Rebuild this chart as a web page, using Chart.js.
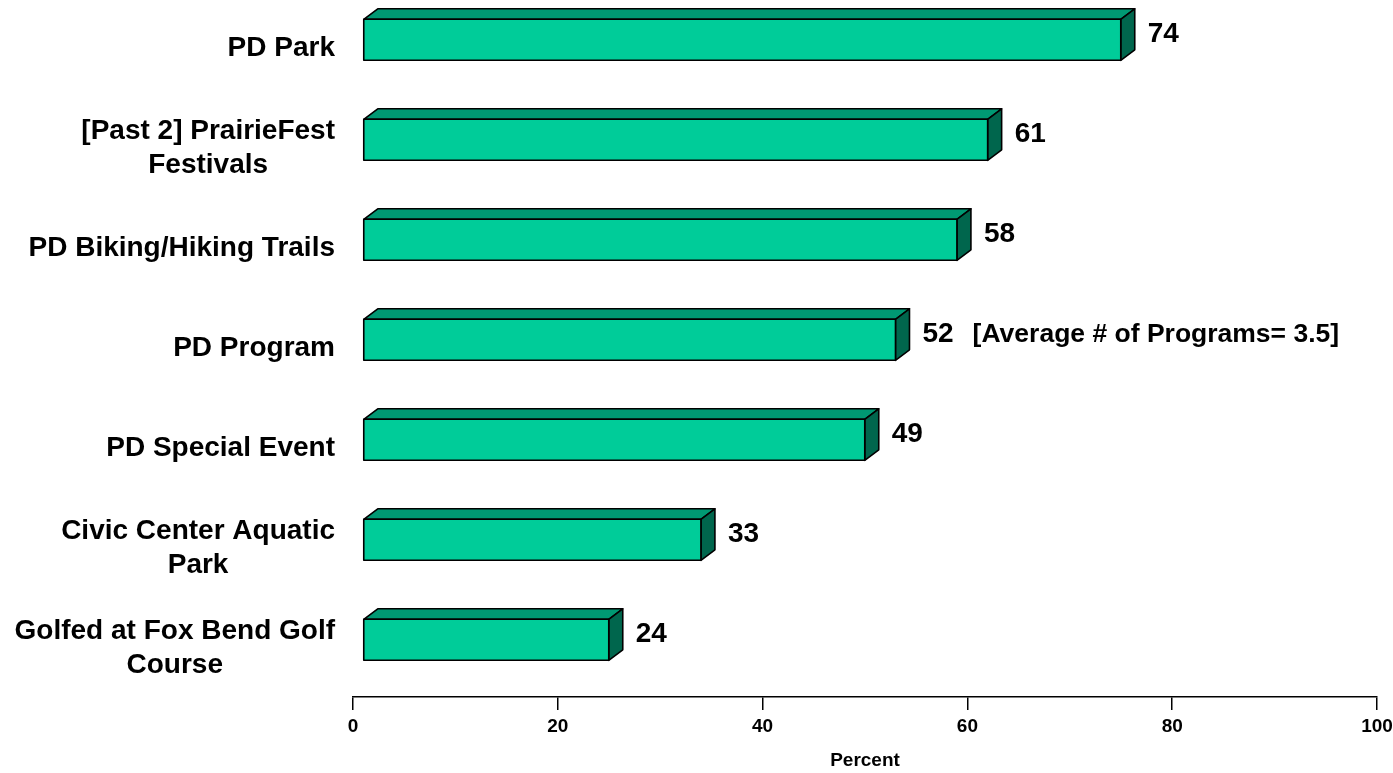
<!DOCTYPE html>
<html>
<head>
<meta charset="utf-8">
<script src="https://cdn.jsdelivr.net/npm/chart.js@4"></script>
<style>
    html, body { margin: 0; padding: 0; background: #fff; overflow: hidden; }
    #wrap { position: absolute; left: 0; top: -3px; width: 1393px; height: 776px; }
</style>
</head>
<body>
<div id="wrap"><canvas id="usageChart"></canvas></div>
<script>
const categories = [
    ['PD Park'],
    ['[Past 2] PrairieFest', 'Festivals'],
    ['PD Biking/Hiking Trails'],
    ['PD Program'],
    ['PD Special Event'],
    ['Civic Center Aquatic', 'Park'],
    ['Golfed at Fox Bend Golf', 'Course']
];
const percents = [74, 61, 58, 52, 49, 33, 24];
const notes = ['', '', '', '[Average # of Programs= 3.5]', '', '', ''];
const xTicks = [0, 20, 40, 60, 80, 100];

const FONT = "'Liberation Sans', Arial, sans-serif";
const colors = {
    front: '#00CC99',
    top: '#009973',
    side: '#00664D',
    edge: '#000000'
};

// excel style 3d look
const depth = { dx: 14, dy: 10.5, shiftX: 10, shiftY: -7.2 };

const bars3d = {
    id: 'bars3d',
    afterDatasetsDraw(chart) {
        const ctx = chart.ctx;
        const meta = chart.getDatasetMeta(0);
        ctx.save();
        ctx.lineWidth = 1.6;
        ctx.strokeStyle = colors.edge;
        ctx.lineJoin = 'round';
        meta.data.forEach((bar, i) => {
            const p = bar.getProps(['x', 'y', 'base', 'height'], true);
            const left = p.base + depth.shiftX;
            const right = p.x + depth.shiftX;
            const top = p.y - p.height / 2 + depth.shiftY;
            const bottom = top + p.height;
            const { dx, dy } = depth;

            // top face
            ctx.beginPath();
            ctx.moveTo(left, top);
            ctx.lineTo(left + dx, top - dy);
            ctx.lineTo(right + dx, top - dy);
            ctx.lineTo(right, top);
            ctx.closePath();
            ctx.fillStyle = colors.top;
            ctx.fill();
            ctx.stroke();

            // side face
            ctx.beginPath();
            ctx.moveTo(right, top);
            ctx.lineTo(right + dx, top - dy);
            ctx.lineTo(right + dx, bottom - dy);
            ctx.lineTo(right, bottom);
            ctx.closePath();
            ctx.fillStyle = colors.side;
            ctx.fill();
            ctx.stroke();

            // front face
            ctx.fillStyle = colors.front;
            ctx.fillRect(left, top, right - left, bottom - top);
            ctx.strokeRect(left, top, right - left, bottom - top);

            // value label
            const labelX = right + dx + 13;
            const labelY = top - dy + (p.height + dy) / 2;
            ctx.fillStyle = '#000';
            ctx.textAlign = 'left';
            ctx.textBaseline = 'middle';
            ctx.font = 'bold 28px ' + FONT;
            const txt = String(percents[i]);
            ctx.fillText(txt, labelX, labelY);
            if (notes[i]) {
                const w = ctx.measureText(txt).width;
                ctx.font = 'bold 26.5px ' + FONT;
                ctx.fillText(notes[i], labelX + w + 19, labelY);
            }
        });
        ctx.restore();
    }
};

const categoryLabels = {
    id: 'categoryLabels',
    afterDraw(chart) {
        const ctx = chart.ctx;
        const yScale = chart.scales.y;
        const rightEdge = chart.chartArea.left - 18;
        const lineH = 34;
        ctx.save();
        ctx.font = 'bold 28px ' + FONT;
        ctx.fillStyle = '#000';
        ctx.textAlign = 'center';
        ctx.textBaseline = 'middle';
        categories.forEach((lines, i) => {
            const cy = yScale.getPixelForValue(i);
            const maxW = Math.max(...lines.map(l => ctx.measureText(l).width));
            const cx = rightEdge - maxW / 2;
            const startY = cy - (lines.length - 1) * lineH / 2;
            lines.forEach((l, k) => {
                ctx.fillText(l, cx, startY + k * lineH + 1);
            });
        });
        ctx.restore();
    }
};

document.addEventListener('DOMContentLoaded', () => {
    new Chart(document.getElementById('usageChart'), {
        type: 'bar',
        data: {
            labels: categories.map(c => c.join(' ')),
            datasets: [{
                data: percents,
                backgroundColor: 'rgba(0,0,0,0)',
                borderWidth: 0,
                barThickness: 41
            }]
        },
        options: {
            indexAxis: 'y',
            responsive: true,
            maintainAspectRatio: false,
            animation: false,
            layout: { padding: { left: 0, right: 16, top: 0, bottom: 0 } },
            scales: {
                x: {
                    min: 0,
                    max: 100,
                    afterBuildTicks: scale => {
                        scale.ticks = xTicks.map(v => ({ value: v }));
                    },
                    afterFit: scale => {
                        scale.height = 76;
                        scale.paddingLeft = 0;
                        scale.paddingRight = 0;
                    },
                    grid: {
                        drawOnChartArea: false,
                        drawTicks: true,
                        tickLength: 13,
                        color: '#000',
                        lineWidth: 1.5
                    },
                    border: { display: true, color: '#000', width: 1.5 },
                    ticks: {
                        color: '#000',
                        padding: 5,
                        maxRotation: 0,
                        font: { family: FONT, size: 19, weight: 'bold' }
                    },
                    title: {
                        display: true,
                        text: 'Percent',
                        color: '#000',
                        padding: { top: 0, bottom: 1 },
                        font: { family: FONT, size: 19, weight: 'bold' }
                    }
                },
                y: {
                    afterFit: scale => {
                        scale.width = 353;
                        scale.paddingTop = 0;
                        scale.paddingBottom = 0;
                    },
                    ticks: { display: false },
                    grid: { display: false, drawTicks: false },
                    border: { display: false }
                }
            },
            plugins: {
                legend: { display: false },
                tooltip: { enabled: false }
            }
        },
        plugins: [bars3d, categoryLabels]
    });
});
</script>
</body>
</html>
